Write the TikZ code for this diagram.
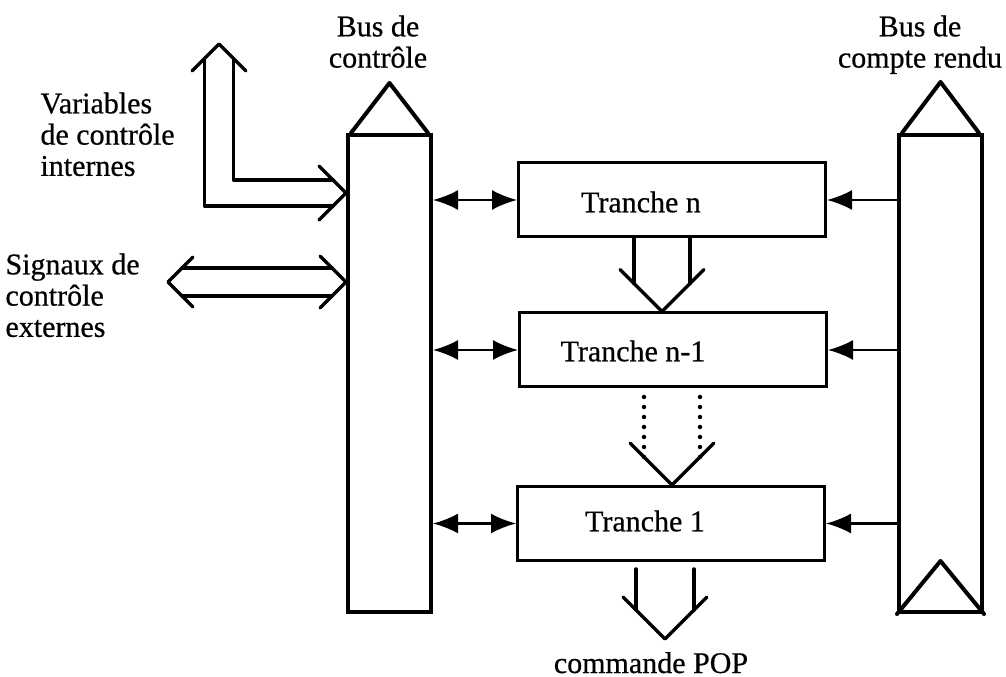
\documentclass[tikz,border=0pt]{standalone}
\usepackage{fontspec}
\setmainfont[FakeBold=0.6]{Liberation Serif}
\usetikzlibrary{arrows.meta,positioning,calc}

\begin{document}
\begin{tikzpicture}[x=0.4pt,y=-0.4pt,
    font=\fontsize{12}{12.5}\selectfont,
    bus/.style={draw,line width=1.6pt,minimum width=33.2pt,minimum height=190.8pt,inner sep=0pt},
    tranche/.style={draw,line width=1.2pt,minimum width=122.8pt,minimum height=29.6pt,inner sep=0pt},
    bidir/.style={line width=0.9pt,{Latex[length=10pt,width=8pt]}-{Latex[length=10pt,width=8pt]}},
    unidir/.style={line width=0.9pt,-{Latex[length=10pt,width=8pt]}},
    gros/.style={line width=1.4pt,line cap=round,line join=round},
    pointille/.style={line width=1.8pt,line cap=round,dash pattern=on 0pt off 4pt},
    lbl/.style={inner sep=0pt,align=left}]
  \useasboundingbox (0,0) rectangle (1006,677);

  % bus
  \node[bus] (cbus) at (389.5,373.5) {};
  \node[bus] (rbus) at (940.5,373.5) {};
  \draw[gros,line width=1.6pt] ($(cbus.north west)+(5,0)$) -- ($(cbus.north)+(0,-50)$) -- ($(cbus.north east)+(-5,0)$);
  \draw[gros,line width=1.6pt] ($(rbus.north west)+(5,0)$) -- ($(rbus.north)+(0,-51)$) -- ($(rbus.north east)+(-5,0)$);
  \draw[gros,line width=1.6pt] (rbus.south west) -- ($(rbus.south)+(0,-53)$) -- (rbus.south east);

  % tranches
  \node[tranche] (tn)  at (672,200) {};
  \node[tranche] (tn1) at (673,350) {};
  \node[tranche] (t1)  at (671,523.5) {};
  \node[lbl] (ltn)  at (641,202) {Tranche n};
  \node[lbl] (ltn1) at (633,351) {Tranche n-1};
  \node[lbl] (lt1)  at (645,521) {Tranche 1};

  % textes
  \node[lbl,anchor=north west] (lvar) at (40,92) {Variables\\ de contrôle\\ internes};
  \node[lbl,anchor=north west] (lsig) at (5,253) {Signaux de\\ contrôle\\ externes};
  \node[lbl,align=center,anchor=north] (lcbus) at (378,15) {Bus de\\ contrôle};
  \node[lbl,align=center,anchor=north] (lrbus) at (920,15) {Bus de\\ compte rendu};

  % liaisons bus - tranches
  \draw[bidir] (cbus.east |- tn.west) -- (tn.west);
  \draw[bidir] (cbus.east |- tn1.west) -- (tn1.west);
  \draw[bidir] (cbus.east |- t1.west) -- (t1.west);
  \draw[unidir] (rbus.west |- tn.east) -- (tn.east);
  \draw[unidir] (rbus.west |- tn1.east) -- (tn1.east);
  \draw[unidir] (rbus.west |- t1.east) -- (t1.east);

  % variables internes
  \coordinate (vtip) at (219,44);
  \coordinate (vin) at (cbus.west |- 0,193);
  \draw[gros] (vtip) ++(-27,27) -- (vtip) -- ++(27,27);
  \draw[gros] (vin) ++(-27,-27) -- (vin) -- ++(-27,27);
  \draw[gros] ($(vtip)+(-14.5,14.5)$) |- ($(vin)+(-13,13)$);
  \draw[gros] ($(vtip)+(14.5,14.5)$) |- ($(vin)+(-13,-13)$);

  % signaux externes
  \coordinate (sout) at (168,282);
  \coordinate (sin) at (cbus.west |- 0,282);
  \draw[gros] (sout) ++(25,-25) -- (sout) -- ++(25,25);
  \draw[gros] (sin) ++(-26,-26) -- (sin) -- ++(-26,26);
  \draw[gros] ($(sout)+(14,-14)$) -- ($(sin)+(-14,-14)$);
  \draw[gros] ($(sout)+(14,14)$) -- ($(sin)+(-14,14)$);

  % tranche n -> tranche n-1
  \coordinate (p1) at ($(tn1.north)+(-11,0)$);
  \draw[gros] (p1) ++(-42,-42) -- (p1) -- ++(42,-42);
  \draw[gros] (p1) ++(-28,-28) -- (tn.south -| {$(p1)+(-28,0)$});
  \draw[gros] (p1) ++(28,-28) -- (tn.south -| {$(p1)+(28,0)$});

  % tranche n-1 -> tranche 1
  \coordinate (p2) at ($(t1.north)+(1,0)$);
  \draw[gros] (p2) ++(-42,-42) -- (p2) -- ++(42,-42);
  \draw[pointille] (p2) ++(-28,-28) -- (tn1.south -| {$(p2)+(-28,0)$});
  \draw[pointille] (p2) ++(28,-28) -- (tn1.south -| {$(p2)+(28,0)$});

  % sortie
  \coordinate (p3) at ($(t1.south)+(-6,77)$);
  \draw[gros] (p3) ++(-42,-42) -- (p3) -- ++(42,-42);
  \draw[gros] (p3) ++(-29,-29) -- ++(0,-41);
  \draw[gros] (p3) ++(29,-29) -- ++(0,-41);
  \node[lbl,anchor=base] (lpop) at (651,673) {commande POP};
\end{tikzpicture}
\end{document}
